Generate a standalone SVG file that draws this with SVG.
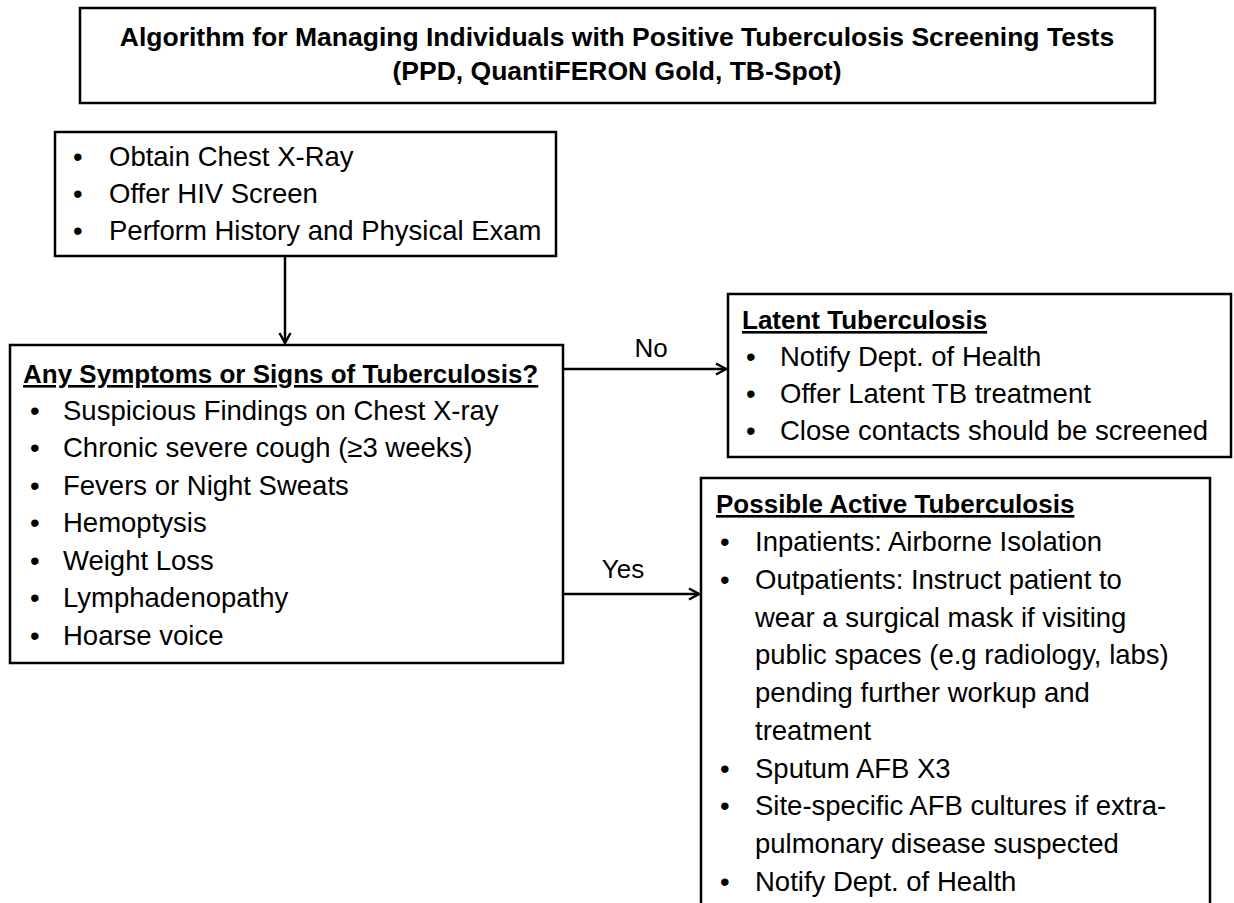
<svg xmlns="http://www.w3.org/2000/svg" width="1234" height="903" viewBox="0 0 1234 903">
<style>
.box{fill:#fff;stroke:#000;stroke-width:2.5}
.t{font-family:"Liberation Sans",Arial,sans-serif;font-size:27.5px;fill:#000}
.h{font-family:"Liberation Sans",Arial,sans-serif;font-size:26px;font-weight:bold;text-decoration:underline;fill:#000}
.title{font-family:"Liberation Sans",Arial,sans-serif;font-size:26.5px;font-weight:bold;text-anchor:middle;fill:#000}
.lbl{font-family:"Liberation Sans",Arial,sans-serif;font-size:26px;text-anchor:middle;fill:#000}
.conn{stroke:#000;stroke-width:2.5;fill:none;marker-end:url(#arr)}
</style>
<defs>
<marker id="arr" markerUnits="userSpaceOnUse" markerWidth="16" markerHeight="16" refX="13" refY="8" orient="auto">
<path d="M3,2.5 L13,8 L3,13.5" fill="none" stroke="#000" stroke-width="2.5"/>
</marker>
</defs>
<rect width="1234" height="903" fill="#fff"/>
<g id="title">
<rect class="box" x="80" y="8" width="1075" height="95"/>
<text class="title" x="617" y="46">Algorithm for Managing Individuals with Positive Tuberculosis Screening Tests</text>
<text class="title" x="617" y="80">(PPD, QuantiFERON Gold, TB-Spot)</text>
</g>
<g id="initial">
<rect class="box" x="55" y="132" width="501" height="124"/>
<text class="t" x="73" y="166">•</text><text class="t" x="109" y="166">Obtain Chest X-Ray</text>
<text class="t" x="73" y="203">•</text><text class="t" x="109" y="203">Offer HIV Screen</text>
<text class="t" x="73" y="240">•</text><text class="t" x="109" y="240">Perform History and Physical Exam</text>
</g>
<g id="symptoms">
<rect class="box" x="10" y="345" width="553" height="318"/>
<text class="h" x="23" y="383">Any Symptoms or Signs of Tuberculosis?</text>
<text class="t" x="30" y="420">•</text><text class="t" x="63" y="420">Suspicious Findings on Chest X-ray</text>
<text class="t" x="30" y="457">•</text><text class="t" x="63" y="457">Chronic severe cough (≥3 weeks)</text>
<text class="t" x="30" y="495">•</text><text class="t" x="63" y="495">Fevers or Night Sweats</text>
<text class="t" x="30" y="532">•</text><text class="t" x="63" y="532">Hemoptysis</text>
<text class="t" x="30" y="570">•</text><text class="t" x="63" y="570">Weight Loss</text>
<text class="t" x="30" y="607">•</text><text class="t" x="63" y="607">Lymphadenopathy</text>
<text class="t" x="30" y="645">•</text><text class="t" x="63" y="645">Hoarse voice</text>
</g>
<g id="latent">
<rect class="box" x="728" y="294" width="503" height="163"/>
<text class="h" x="742" y="329">Latent Tuberculosis</text>
<text class="t" x="746" y="366">•</text><text class="t" x="780" y="366">Notify Dept. of Health</text>
<text class="t" x="746" y="403">•</text><text class="t" x="780" y="403">Offer Latent TB treatment</text>
<text class="t" x="746" y="440">•</text><text class="t" x="780" y="440">Close contacts should be screened</text>
</g>
<g id="active">
<rect class="box" x="701" y="478" width="509" height="440"/>
<text class="h" x="716" y="513">Possible Active Tuberculosis</text>
<text class="t" x="720" y="551">•</text><text class="t" x="755" y="551">Inpatients: Airborne Isolation</text>
<text class="t" x="720" y="589">•</text><text class="t" x="755" y="589">Outpatients: Instruct patient to</text>
<text class="t" x="755" y="627">wear a surgical mask if visiting</text>
<text class="t" x="755" y="664">public spaces (e.g radiology, labs)</text>
<text class="t" x="755" y="702">pending further workup and</text>
<text class="t" x="755" y="740">treatment</text>
<text class="t" x="720" y="778">•</text><text class="t" x="755" y="778">Sputum AFB X3</text>
<text class="t" x="720" y="815">•</text><text class="t" x="755" y="815">Site-specific AFB cultures if extra-</text>
<text class="t" x="755" y="853">pulmonary disease suspected</text>
<text class="t" x="720" y="891">•</text><text class="t" x="755" y="891">Notify Dept. of Health</text>
</g>
<g id="connectors">
<line class="conn" x1="285" y1="257" x2="285" y2="343"/>
<line class="conn" x1="564" y1="369" x2="726" y2="369"/>
<line class="conn" x1="564" y1="594" x2="699" y2="594"/>
<text class="lbl" x="651" y="357">No</text>
<text class="lbl" x="623" y="578">Yes</text>
</g>
</svg>
